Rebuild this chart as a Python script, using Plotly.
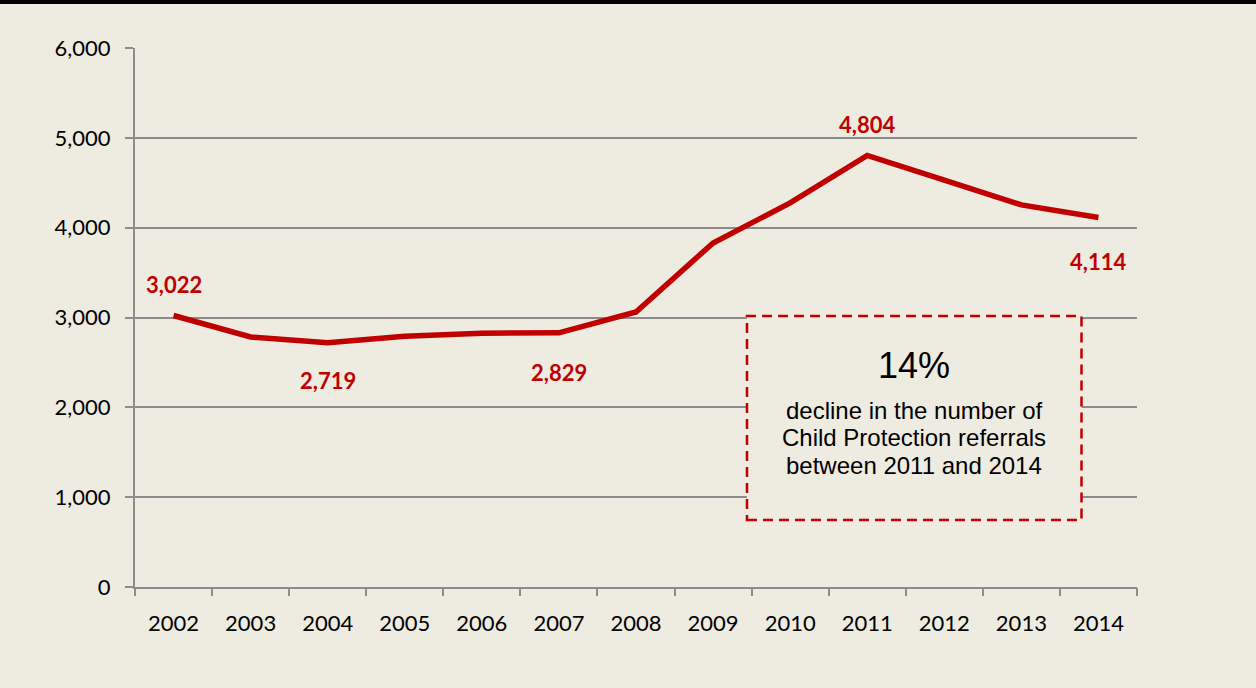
import plotly.graph_objects as go

years = ["2002", "2003", "2004", "2005", "2006", "2007", "2008",
         "2009", "2010", "2011", "2012", "2013", "2014"]
referrals = [3022, 2783, 2719, 2790, 2826, 2829, 3061, 3830, 4275, 4804, 4530, 4253, 4114]

label_idx = [0, 2, 5, 9, 12]
label_shift = [31, -38, -40, 31, -44]

box_lines = ["decline in the number of", "Child Protection referrals", "between 2011 and 2014"]

BG = "#EEEBE1"
RED = "#C00000"
GRID = "#8C8C8C"
FONT = "Lato, Open Sans, sans-serif"

fig = go.Figure()
fig.add_trace(go.Scatter(
    x=list(range(len(years))), y=referrals, mode="lines",
    line=dict(color=RED, width=5.5), hoverinfo="skip", showlegend=False,
))

for i, sh in zip(label_idx, label_shift):
    fig.add_annotation(
        x=i, y=referrals[i], xref="x", yref="y", text=f"<b>{referrals[i]:,}</b>",
        showarrow=False, yshift=sh,
        font=dict(family=FONT, size=22, color=RED),
    )

# dashed annotation box
fig.add_shape(type="rect", xref="x", yref="y", x0=7.44, x1=11.78, y0=746, y1=3017,
              line=dict(color=RED, width=2.5, dash="10px,6px"), fillcolor=BG, layer="above")
fig.add_annotation(x=9.61, y=2471, xref="x", yref="y", text="14%", showarrow=False,
                   font=dict(family="Liberation Sans, Arial", size=36, color="black"))
for txt, yv in zip(box_lines, [1970, 1659, 1347]):
    fig.add_annotation(x=9.61, y=yv, xref="x", yref="y", text=txt, showarrow=False,
                       font=dict(family="Liberation Sans, Arial", size=24, color="black"))

# top black border
fig.add_shape(type="line", xref="paper", yref="paper", x0=-0.2, x1=1.2,
              y0=1 + 46 / 539, y1=1 + 46 / 539, line=dict(color="black", width=4))

fig.update_layout(
    width=1256, height=688,
    paper_bgcolor=BG, plot_bgcolor=BG,
    margin=dict(l=135, r=119, t=48, b=101),
    font=dict(family=FONT, size=22, color="black"),
    xaxis=dict(tickmode="array", tickvals=list(range(len(years))), ticktext=years,
               ticks="", showline=True, linecolor=GRID, linewidth=2,
               showgrid=False, range=[-0.5, 12.5], zeroline=False,
               ticklabelstandoff=16, tickfont=dict(size=22)),
    xaxis2=dict(overlaying="x", matches="x", tickmode="array",
                tickvals=[k - 0.5 for k in range(len(years) + 1)], ticktext=[""] * (len(years) + 1),
                ticks="outside", ticklen=8, tickcolor=GRID, tickwidth=2, showgrid=False,
                zeroline=False, side="bottom", anchor="y", range=[-0.5, 12.5]),
    yaxis=dict(range=[0, 6000], dtick=1000, tickformat=",", ticks="outside", ticklen=8,
               tickcolor=GRID, tickwidth=2, showline=True, linecolor=GRID, linewidth=2,
               showgrid=True, gridcolor=GRID, gridwidth=1.5, zeroline=False,
               ticklabelstandoff=10, tickfont=dict(size=22)),
)
fig.add_trace(go.Scatter(x=[0], y=[None], xaxis="x2", yaxis="y", showlegend=False, hoverinfo="skip"))

fig.write_html("out.html", config={"displayModeBar": False},
               post_script="document.body.style.margin='0';document.body.style.padding='0';")
